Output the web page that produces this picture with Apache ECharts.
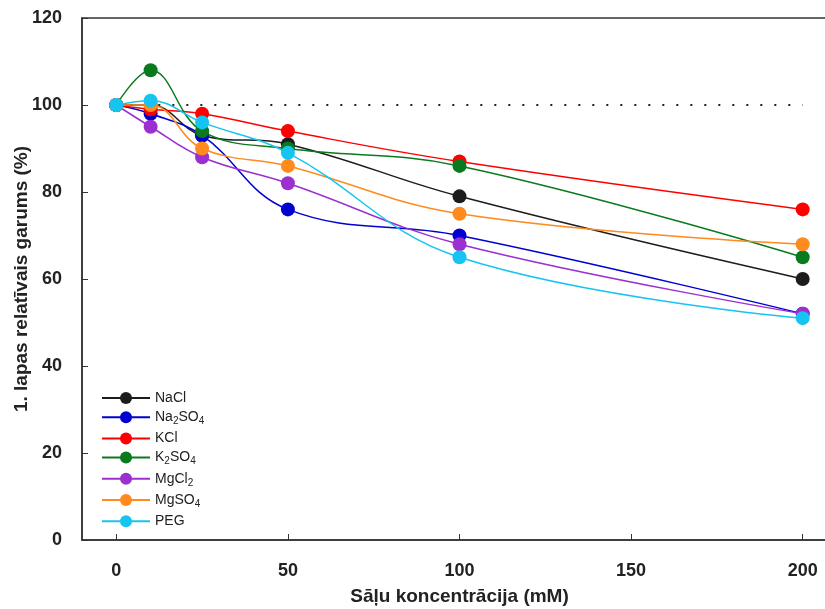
<!DOCTYPE html>
<html>
<head>
<meta charset="utf-8">
<script src="https://cdn.jsdelivr.net/npm/echarts@6/dist/echarts.min.js"></script>
<style>
  html, body { margin: 0; padding: 0; background: #fff; }
  #main { width: 825px; height: 609px; }
</style>
</head>
<body>
<div id="main"></div>
<script>
// koncentrācijas (mM)
var conc = [0, 10, 25, 50, 100, 200];
var xTicks = [0, 50, 100, 150, 200];

var naclVals   = [100, 100, 93, 91, 79, 60];
var na2so4Vals = [100, 98, 93, 76, 70, 52];
var kclVals    = [100, 99, 98, 94, 87, 76];
var k2so4Vals  = [100, 108, 94, 90, 86, 65];
var mgcl2Vals  = [100, 95, 88, 82, 68, 52];
var mgso4Vals  = [100, 100, 90, 86, 75, 68];
var pegVals    = [100, 101, 96, 89, 65, 51];

var refLevel = 100;
var yTitle = '1. lapas relatīvais garums (%)';

var names  = ['NaCl', 'Na2SO4', 'KCl', 'K2SO4', 'MgCl2', 'MgSO4', 'PEG'];
var colors = ['#1c1c1c', '#0000d0', '#ff0000', '#0a7a1e', '#9b2fd0', '#ff8a1e', '#16c4f2'];
var values = [naclVals, na2so4Vals, kclVals, k2so4Vals, mgcl2Vals, mgso4Vals, pegVals];

function pairs(vals) {
  return conc.map(function (c, i) { return [c, vals[i]]; });
}

// formula -> rich text ar apakšindeksiem
function formula(name) {
  return name.replace(/([A-Za-z]+)|(\d+)/g, function (m, letters, digits) {
    if (digits) return '{s|' + digits + '}';
    return '{n|' + letters + '}';
  });
}

var chart = echarts.init(document.getElementById('main'));

var series = names.map(function (n, i) {
  return {
    name: n,
    type: 'line',
    smooth: 0.4,
    data: pairs(values[i]),
    symbol: 'circle',
    symbolSize: 14,
    itemStyle: { color: colors[i] },
    lineStyle: { color: colors[i], width: 1.5 },
    z: 3 + i
  };
});

series.push({
  name: 'ref',
  type: 'line',
  data: [[0, refLevel], [200, refLevel]],
  symbol: 'none',
  lineStyle: { color: '#222', width: 2, type: [2, 12] },
  silent: true,
  z: 1
});

var option = {
  backgroundColor: '#fff',
  animation: false,
  grid: {
    left: 82, top: 18, bottom: 69, right: -12,
    outerBoundsMode: 'none',
    containLabel: false,
    show: true, borderColor: '#333', borderWidth: 1.5
  },
  // y ass nosaukums
  graphic: [{
    type: 'text',
    x: 22, y: 279,
    rotation: Math.PI / 2,
    style: {
      text: yTitle,
      fontSize: 19, fontWeight: 'bold', fill: '#222', fontFamily: 'Liberation Sans',
      align: 'center', verticalAlign: 'middle'
    }
  }],
  legend: {
    data: names,
    orient: 'vertical',
    left: 96, top: 386,
    itemWidth: 48, itemHeight: 15, itemGap: 5.2,
    formatter: function (name) { return formula(name); },
    textStyle: {
      color: '#222',
      rich: {
        n: { fontSize: 14, fontFamily: 'Liberation Sans', color: '#222' },
        s: { fontSize: 10, fontFamily: 'Liberation Sans', color: '#222', padding: [8, 0, 0, 0] }
      }
    }
  },
  xAxis: {
    type: 'value',
    min: -10, max: 210,
    name: 'Sāļu koncentrācija (mM)',
    nameLocation: 'middle',
    nameGap: 47,
    nameTextStyle: { fontSize: 19, fontWeight: 'bold', color: '#222', fontFamily: 'Liberation Sans' },
    axisLine: { show: true, onZero: false, lineStyle: { color: '#333', width: 1.5 } },
    axisTick: { show: true, inside: true, length: 6, customValues: xTicks, lineStyle: { color: '#333' } },
    axisLabel: { customValues: xTicks, fontSize: 18, fontWeight: 'bold', color: '#222', margin: 22, fontFamily: 'Liberation Sans' },
    splitLine: { show: false }
  },
  yAxis: {
    type: 'value',
    min: 0, max: 120, interval: 20,
    axisLine: { show: true, onZero: false, lineStyle: { color: '#333', width: 1.5 } },
    axisTick: { show: true, inside: true, length: 6, lineStyle: { color: '#333' } },
    axisLabel: { fontSize: 18, fontWeight: 'bold', color: '#222', margin: 20, fontFamily: 'Liberation Sans' },
    splitLine: { show: false }
  },
  series: series
};

chart.setOption(option);
</script>
</body>
</html>
